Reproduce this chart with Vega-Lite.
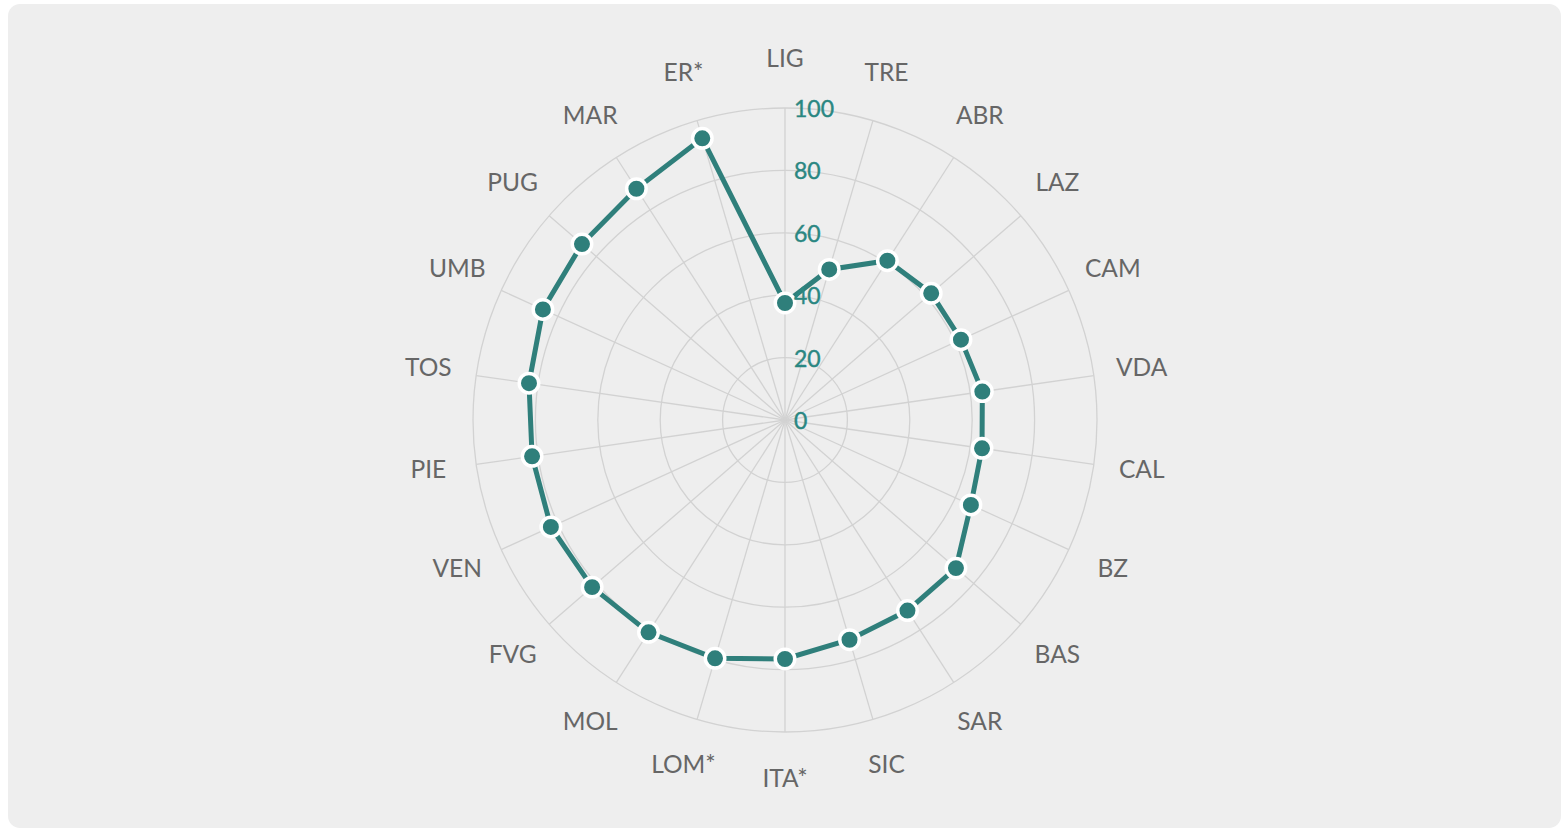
{
  "$schema": "https://vega.github.io/schema/vega-lite/v6.json",
  "width": 1563,
  "height": 829,
  "autosize": {"type": "fit", "contains": "padding"},
  "padding": {"left": 8, "top": 4, "right": 2, "bottom": 1},
  "background": "#ffffff",
  "view": {"fill": "#eeeeee", "stroke": null, "cornerRadius": 12},
  "datasets": {
    "regions": [
      {"region": "LIG", "value": 37.5},
      {"region": "TRE", "value": 50.3},
      {"region": "ABR", "value": 60.7},
      {"region": "LAZ", "value": 62.0},
      {"region": "CAM", "value": 62.0},
      {"region": "VDA", "value": 63.9},
      {"region": "CAL", "value": 63.8},
      {"region": "BZ", "value": 65.5},
      {"region": "BAS", "value": 72.5},
      {"region": "SAR", "value": 72.6},
      {"region": "SIC", "value": 73.4},
      {"region": "ITA*", "value": 76.6},
      {"region": "LOM*", "value": 79.6},
      {"region": "MOL", "value": 80.9},
      {"region": "FVG", "value": 81.8},
      {"region": "VEN", "value": 82.5},
      {"region": "PIE", "value": 81.9},
      {"region": "TOS", "value": 82.9},
      {"region": "UMB", "value": 85.3},
      {"region": "PUG", "value": 86.1},
      {"region": "MAR", "value": 88.1},
      {"region": "ER*", "value": 94.1}
    ],
    "ticks": [
      {"tick": 0}, {"tick": 20}, {"tick": 40}, {"tick": 60}, {"tick": 80}, {"tick": 100}
    ]
  },
  "layer": [
    {
      "data": {"name": "ticks"},
      "transform": [
        {"filter": "datum.tick > 0"},
        {"calculate": "0", "as": "c"}
      ],
      "mark": {"type": "point", "shape": "circle", "filled": false, "stroke": "#d2d2d2", "strokeWidth": 1.3, "opacity": 1},
      "encoding": {
        "x": {"field": "c", "type": "quantitative", "scale": {"domain": [-249.04, 248.72], "nice": false, "zero": false}, "axis": null},
        "y": {"field": "c", "type": "quantitative", "scale": {"domain": [-130.77, 133.33], "nice": false, "zero": false}, "axis": null},
        "size": {"field": "tick", "type": "quantitative", "scale": {"type": "pow", "exponent": 2, "domain": [0, 100], "range": [0, 389376]}, "legend": null}
      }
    },
    {
      "data": {"name": "regions"},
      "transform": [
        {"window": [{"op": "row_number", "as": "idx"}]},
        {"calculate": "(datum.idx - 1) * 2 * PI / 22", "as": "ang"},
        {"calculate": "0", "as": "c"},
        {"calculate": "100 * sin(datum.ang)", "as": "sx"},
        {"calculate": "100 * cos(datum.ang)", "as": "sy"}
      ],
      "mark": {"type": "rule", "color": "#d2d2d2", "strokeWidth": 1.3},
      "encoding": {
        "x": {"field": "c", "type": "quantitative"},
        "y": {"field": "c", "type": "quantitative"},
        "x2": {"field": "sx"},
        "y2": {"field": "sy"}
      }
    },
    {
      "data": {"name": "regions"},
      "transform": [
        {"window": [{"op": "row_number", "as": "idx"}]},
        {"calculate": "(datum.idx - 1) * 2 * PI / 22", "as": "ang"},
        {"calculate": "datum.value * sin(datum.ang)", "as": "px"},
        {"calculate": "datum.value * cos(datum.ang)", "as": "py"}
      ],
      "mark": {"type": "line", "interpolate": "linear-closed", "color": "#2f7f7b", "strokeWidth": 5},
      "encoding": {
        "x": {"field": "px", "type": "quantitative"},
        "y": {"field": "py", "type": "quantitative"},
        "order": {"field": "idx", "type": "quantitative"}
      }
    },
    {
      "data": {"name": "regions"},
      "transform": [
        {"window": [{"op": "row_number", "as": "idx"}]},
        {"calculate": "(datum.idx - 1) * 2 * PI / 22", "as": "ang"},
        {"calculate": "datum.value * sin(datum.ang)", "as": "px"},
        {"calculate": "datum.value * cos(datum.ang)", "as": "py"}
      ],
      "mark": {"type": "point", "shape": "circle", "filled": true, "fill": "#2f7f7b", "stroke": "#ffffff", "strokeWidth": 3.5, "size": 380, "opacity": 1},
      "encoding": {
        "x": {"field": "px", "type": "quantitative"},
        "y": {"field": "py", "type": "quantitative"}
      }
    },
    {
      "data": {"name": "regions"},
      "transform": [
        {"window": [{"op": "row_number", "as": "idx"}]},
        {"calculate": "(datum.idx - 1) * 2 * PI / 22", "as": "ang"},
        {"calculate": "115.5 * sin(datum.ang)", "as": "lx"},
        {"calculate": "115.5 * cos(datum.ang)", "as": "ly"}
      ],
      "mark": {"type": "text", "font": "Lato", "fontSize": 24.5, "color": "#666666", "align": "center", "baseline": "middle"},
      "encoding": {
        "x": {"field": "lx", "type": "quantitative"},
        "y": {"field": "ly", "type": "quantitative"},
        "text": {"field": "region"}
      }
    },
    {
      "data": {"name": "ticks"},
      "transform": [{"calculate": "0", "as": "c"}],
      "mark": {"type": "text", "font": "Lato", "fontSize": 23, "fontWeight": "normal", "color": "#2a8782", "align": "left", "baseline": "middle", "dx": 9, "dy": 2, "stroke": "#2a8782", "strokeWidth": 0.4},
      "encoding": {
        "x": {"field": "c", "type": "quantitative"},
        "y": {"field": "tick", "type": "quantitative"},
        "text": {"field": "tick", "type": "quantitative"}
      }
    }
  ]
}
